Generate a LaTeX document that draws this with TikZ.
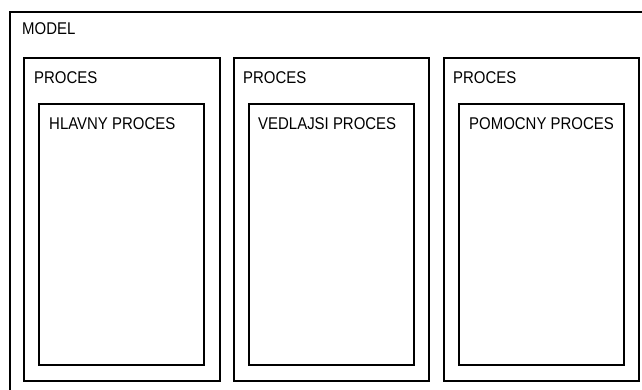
\documentclass[tikz,border=0pt]{standalone}
\usepackage{fontspec}
\newfontfamily\lblfont[FakeStretch=0.88]{Liberation Sans}
\begin{document}
\begin{tikzpicture}[x=1pt,y=-1pt,
  box/.style={draw=black, line width=1.3pt, fill=none, inner sep=0pt, outer sep=0pt, anchor=north west},
  lbl/.style={inner sep=0pt, anchor=base west, font=\lblfont\fontsize{17}{17}\selectfont}]
\useasboundingbox (0,0) rectangle (642,390);
\clip (0,0) rectangle (642,390);
\fill[white] (0,0) rectangle (642,390);
% outer model box (extends past the right and bottom edges)
\node[box, minimum width=660pt, minimum height=400pt] (model) at (10,12) {};
\node[lbl] (modelT) at ([xshift=12pt,yshift=-22.5pt]model.north west) {MODEL};
% process boxes
\node[box, minimum width=196pt, minimum height=323pt] (p1) at (24,58) {};
\node[box, minimum width=195pt, minimum height=323pt] (p2) at (234,58) {};
\node[box, minimum width=195pt, minimum height=323pt] (p3) at (444,58) {};
\node[lbl] (p1T) at ([xshift=10pt,yshift=-26pt]p1.north west) {PROCES};
\node[lbl] (p2T) at ([xshift=9pt,yshift=-26pt]p2.north west) {PROCES};
\node[lbl] (p3T) at ([xshift=9pt,yshift=-26pt]p3.north west) {PROCES};
% inner boxes
\node[box, minimum width=165pt, minimum height=261pt] (i1) at (39,104) {};
\node[box, minimum width=165pt, minimum height=261pt] (i2) at (249,104) {};
\node[box, minimum width=165pt, minimum height=261pt] (i3) at (459,104) {};
\node[lbl] (i1T) at ([xshift=10pt,yshift=-26pt]i1.north west) {HLAVNY PROCES};
\node[lbl] (i2T) at ([xshift=9pt,yshift=-26pt]i2.north west) {VEDLAJSI PROCES};
\node[lbl] (i3T) at ([xshift=10pt,yshift=-26pt]i3.north west) {POMOCNY PROCES};
\end{tikzpicture}
\end{document}
